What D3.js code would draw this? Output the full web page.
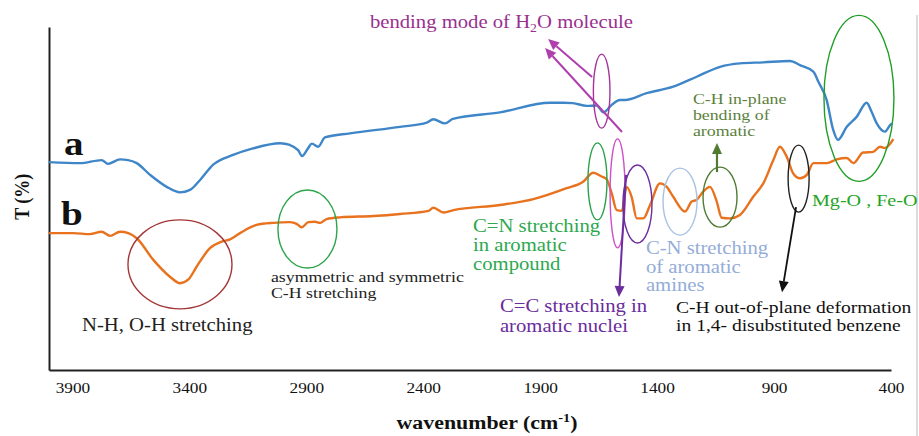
<!DOCTYPE html>
<html>
<head>
<meta charset="utf-8">
<script src="https://cdn.jsdelivr.net/npm/d3@7"></script>
<style>
  body { margin: 0; background: #fff; }
  svg { display: block; }
</style>
</head>
<body>
<svg id="chart" width="919" height="436"></svg>
<script>
// FTIR spectra: (a) upper trace, (b) lower trace. Transmittance in arbitrary % units.
const waveA = [4000,3867,3775,3748,3696,3662,3625,3568,3497,3440,3397,3354,3299,3213,3128,3012,2970,2935,2918,2893,2876,2849,2820,2713,2499,2385,2357,2307,2273,2072,1858,1802,1760,1701,1658,1630,1594,1559,1537,1445,1331,1231,1131,1046,946,832,789,732,711,675,647,627,589,547,504,483,461,426,404,396];
const transA = [60.6,60.3,61.2,60.1,61.4,61.2,60.3,56.9,53.4,51.8,52.5,55.4,59.8,62.7,64.6,66.1,65.6,64.1,62.4,64.6,66.0,65.1,67.8,69.0,70.9,72.1,73.1,71.9,73.2,75.1,77.9,77.9,77.8,77.0,77.1,75.1,77.3,78.7,78.7,80.7,82.6,85.5,88.4,89.4,89.7,90.1,88.9,87.0,84.1,78.7,70.0,67.1,70.9,73.8,77.9,75.3,71.9,69.5,71.4,71.9];

const waveB = [4000,3897,3825,3775,3739,3696,3661,3625,3554,3483,3440,3404,3369,3312,3262,3226,3183,3112,3041,2970,2941,2920,2891,2863,2841,2813,2756,2613,2499,2378,2357,2311,2271,2072,1929,1787,1716,1673,1637,1616,1594,1573,1551,1530,1509,1487,1459,1430,1388,1359,1331,1281,1252,1231,1203,1174,1145,1124,1088,1046,989,946,903,875,846,818,789,760,732,675,632,589,561,519,476,447,426,390];
const transB = [39.9,39.9,39.6,40.3,39.1,40.3,39.9,38.4,32.1,27.2,25.3,26.4,30.1,35.5,37.4,38.1,39.9,42.3,42.9,43.1,42.6,41.6,43.1,43.2,42.9,44.0,44.5,44.9,45.5,46.4,47.3,45.9,46.6,48.1,49.8,53.0,54.9,57.5,56.4,55.6,51.5,46.6,46.4,53.4,50.5,44.2,44.2,48.1,54.4,53.4,50.5,46.2,49.1,49.6,52.0,53.4,49.1,44.4,44.2,45.2,50.5,54.4,61.2,65.1,62.2,57.3,55.9,56.9,60.3,60.3,61.4,61.8,60.3,63.4,63.6,65.1,64.7,67.3];

const tickLabels = [3900, 3400, 2900, 2400, 1900, 1400, 900, 400];

// Band markers: centre (wavenumber, T), radii in px
const bandRings = [
  { wn: 1637, t: 81.3, rx: 8.3,  ry: 37,   color: "#a3359b" },
  { wn: 537,  t: 79.2, rx: 35,   ry: 83,   color: "#1f9e25" },
  { wn: 1131, t: 50.4, rx: 17,   ry: 30,   color: "#4f7b33" },
  { wn: 1655, t: 55.0, rx: 9.5,  ry: 38.5, color: "#2aa24a" },
  { wn: 1569, t: 51.5, rx: 7.5,  ry: 54.5, color: "#cf4fc9" },
  { wn: 1484, t: 48.4, rx: 14.5, ry: 39,   color: "#6a2e9e" },
  { wn: 1302, t: 49.1, rx: 17,   ry: 33.5, color: "#a9c1e3" },
  { wn: 795,  t: 55.8, rx: 10.5, ry: 33.5, color: "#222222" },
  { wn: 2895, t: 41.1, rx: 29.5, ry: 39,   color: "#2ca44a" },
  { wn: 3440, t: 30.8, rx: 52,   ry: 44.5, color: "#a33535" }
];

const svg = d3.select("#chart");
const x = d3.scaleLinear().domain([4000, 400]).range([49, 891]);
const y = d3.scaleLinear().domain([0, 100]).range([370, 27]);
const SERIF = "'Liberation Serif','Times New Roman',serif";
const STRETCH = 1.15;

// page edge rule on the right
svg.append("line").attr("x1", 917).attr("x2", 917).attr("y1", 15).attr("y2", 436)
  .attr("stroke", "#d0d0d0").attr("stroke-width", 1.5);

// axes
const xAxis = d3.axisBottom(x).tickValues(tickLabels).tickFormat(d3.format("d"))
  .tickSizeInner(0).tickSizeOuter(0).tickPadding(12);
const gx = svg.append("g").attr("transform", `translate(0,${y(0)})`).call(xAxis);
gx.select(".domain").attr("stroke", "#222").attr("stroke-width", 2);
gx.selectAll(".tick text").attr("font-family", SERIF).attr("font-size", 15)
  .attr("fill", "#111").attr("transform", `scale(${STRETCH},1)`);

const yAxis = d3.axisLeft(y).tickValues([]).tickSizeOuter(0);
const gy = svg.append("g").attr("transform", `translate(${x(4000)},0)`).call(yAxis);
gy.select(".domain").attr("stroke", "#222").attr("stroke-width", 2);

// spectra
const line = d3.line().x(d => x(d[0])).y(d => y(d[1])).curve(d3.curveMonotoneX);
svg.append("path").datum(d3.zip(waveA, transA)).attr("d", line)
  .attr("fill", "none").attr("stroke", "#3f86c9").attr("stroke-width", 2.4).attr("stroke-linejoin", "round");
svg.append("path").datum(d3.zip(waveB, transB)).attr("d", line)
  .attr("fill", "none").attr("stroke", "#e8721e").attr("stroke-width", 2.4).attr("stroke-linejoin", "round");

// band rings
svg.append("g").selectAll("ellipse").data(bandRings).join("ellipse")
  .attr("cx", d => x(d.wn)).attr("cy", d => y(d.t))
  .attr("rx", d => d.rx).attr("ry", d => d.ry)
  .attr("fill", "none").attr("stroke", d => d.color).attr("stroke-width", 1.4);

// arrows
function arrow(wn1, t1, wn2, t2, color, w) {
  const x1 = x(wn1), y1 = y(t1), x2 = x(wn2), y2 = y(t2);
  const a = Math.atan2(y2 - y1, x2 - x1), L = 11, H = 5;
  const bx = x2 - L * Math.cos(a), by = y2 - L * Math.sin(a);
  svg.append("line").attr("x1", x1).attr("y1", y1).attr("x2", bx).attr("y2", by)
    .attr("stroke", color).attr("stroke-width", w);
  const p = [[x2, y2],
    [bx + H * Math.sin(a), by - H * Math.cos(a)],
    [bx - H * Math.sin(a), by + H * Math.cos(a)]];
  svg.append("polygon").attr("points", p.map(q => q.join(",")).join(" ")).attr("fill", color);
}
arrow(1678, 85.4, 1866, 96.5, "#b03fae", 2);
arrow(1550, 69.4, 1879, 93.9, "#b03fae", 2);
arrow(1144, 57.7, 1144, 66.2, "#4f7b33", 2.2);
arrow(1533, 56.9, 1563, 21.3, "#6a2e9e", 2);
arrow(806, 47.5, 866, 22.7, "#111", 1.8);

// text helper: lines of text anchored at (wavenumber, T)
function note(wn, t, lines, size, color, lh, weight) {
  const g = svg.append("g")
    .attr("transform", `translate(${x(wn)},${y(t)}) scale(${STRETCH},1)`);
  lines.forEach((ln, i) => {
    g.append("text").attr("y", i * lh).attr("font-family", SERIF)
      .attr("font-size", size).attr("font-weight", weight || "normal")
      .attr("fill", color).text(ln);
  });
  return g;
}

// water bending label with subscript
const h2o = note(2628, 99.7, [], 18, "#99308f", 0);
const h2oText = h2o.append("text").attr("font-family", SERIF).attr("font-size", 18).attr("fill", "#99308f");
h2oText.append("tspan").text("bending mode of H");
h2oText.append("tspan").attr("font-size", 12).attr("dy", 4).text("2");
h2oText.append("tspan").attr("dy", -4).text("O molecule");

note(1247, 77.6, ["C-H in-plane", "bending of", "aromatic"], 15.5, "#5b7f3c", 16);
note(3859, 11.4, ["N-H, O-H stretching"], 18, "#222", 0);
note(3051, 25.7, ["asymmetric and symmetric", "C-H stretching"], 15.5, "#222", 16);
note(2187, 40.2, ["C=N stretching", "in aromatic", "compound"], 18, "#2ea84e", 19);
note(2072, 16.9, ["C=C stretching in", "aromatic nuclei"], 18, "#6a2c9c", 20);
note(1448, 33.8, ["C-N stretching", "of aromatic", "amines"], 18, "#94acd8", 18.5);
note(1319, 16.6, ["C-H out-of-plane deformation", "in 1,4- disubstituted benzene"], 17, "#111", 18);
note(738, 47.8, ["Mg-O , Fe-O"], 17.5, "#25a525", 0);

// trace labels
note(3936, 62.7, ["a"], 34, "#111", 0, "bold");
note(3949, 42.3, ["b"], 34, "#111", 0, "bold");

// axis titles
svg.append("text")
  .attr("transform", `translate(29,${y(50.5)}) scale(${STRETCH},1) rotate(-90)`)
  .attr("text-anchor", "middle").attr("font-family", SERIF).attr("font-size", 18)
  .attr("font-weight", "bold").attr("fill", "#111").text("T (%)");

const xt = svg.append("g").attr("transform", `translate(${(x(4000) + x(400)) / 2 + 17},429) scale(${STRETCH},1)`)
  .append("text").attr("text-anchor", "middle").attr("font-family", SERIF)
  .attr("font-size", 19).attr("font-weight", "bold").attr("fill", "#111");
xt.append("tspan").text("wavenumber (cm");
xt.append("tspan").attr("font-size", 12.5).attr("dy", -7).text("-1");
xt.append("tspan").attr("dy", 7).text(")");
</script>
</body>
</html>
